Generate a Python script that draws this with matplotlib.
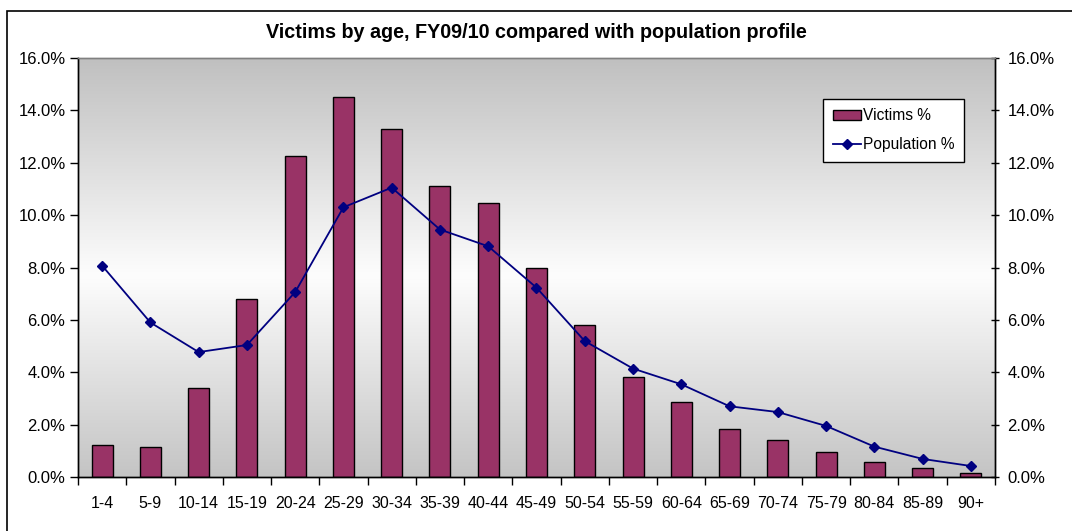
import numpy as np
import matplotlib
matplotlib.use("Agg")
import matplotlib.pyplot as plt
from matplotlib.patches import Rectangle
from matplotlib.ticker import FuncFormatter, FixedLocator

plt.rcParams['font.family'] = ['Liberation Sans', 'DejaVu Sans']

title = "Victims by age, FY09/10 compared with population profile"
categories = ["1-4", "5-9", "10-14", "15-19", "20-24", "25-29", "30-34", "35-39",
              "40-44", "45-49", "50-54", "55-59", "60-64", "65-69", "70-74",
              "75-79", "80-84", "85-89", "90+"]
victims_pct = [1.21, 1.16, 3.40, 6.80, 12.26, 14.50, 13.28, 11.10, 10.45, 7.97,
               5.80, 3.82, 2.87, 1.84, 1.43, 0.94, 0.58, 0.36, 0.15]
population_pct = [8.07, 5.90, 4.77, 5.04, 7.06, 10.30, 11.05, 9.45, 8.81, 7.23,
                  5.19, 4.14, 3.54, 2.70, 2.48, 1.95, 1.16, 0.69, 0.42]
y_ticks = [0, 2, 4, 6, 8, 10, 12, 14, 16]

W, H = 1072, 531
fig = plt.figure(figsize=(W / 100, H / 100), dpi=100)
fig.patch.set_facecolor('white')

L, R, T, B = 78, 995, 58, 477
ax = fig.add_axes([L / W, 1 - B / H, (R - L) / W, (B - T) / H])
ax2 = ax.twinx()

# gradient background
n = 256
t = np.linspace(0, 1, n)
g = np.empty(n)
top_c, mid_c, bot_c = 192, 253, 196
for i, v in enumerate(t):
    if v < 0.52:
        g[i] = top_c + (mid_c - top_c) * (v / 0.52)
    else:
        g[i] = mid_c + (bot_c - mid_c) * ((v - 0.52) / 0.48)
img = np.repeat((g / 255.0)[:, None], 3, axis=1)[:, None, :]
ax.imshow(img, extent=[0, 1, 0, 1], transform=ax.transAxes, aspect='auto',
          zorder=0, origin='upper')

x = np.arange(len(categories))
bars = ax.bar(x, victims_pct, width=0.435, color='#993366', edgecolor='black',
              linewidth=1.0, zorder=2, label='Victims %')
line, = ax2.plot(x, population_pct, color='#000080', linewidth=1.3, marker='D',
                 markersize=5.5, markerfacecolor='#000080', markeredgecolor='#000080',
                 zorder=3, label='Population %')

for a in (ax, ax2):
    a.set_ylim(0, 16)
    a.set_xlim(-0.5, len(categories) - 0.5)
    a.set_yticks(y_ticks)
    a.yaxis.set_major_formatter(FuncFormatter(lambda v, p: f"{v:.1f}%"))

ax.patch.set_visible(False)
ax.set_zorder(1)
ax2.set_zorder(2)
ax2.patch.set_visible(False)

ax.set_xticks(x)
ax.set_xticklabels(categories, fontsize=11.5)
ax.xaxis.set_minor_locator(FixedLocator(np.arange(-0.5, len(categories), 1.0)))
ax.tick_params(axis='x', which='major', length=0, pad=14)
ax.tick_params(axis='x', which='minor', length=6, width=1, direction='out', color='black')
ax.tick_params(axis='y', which='major', length=6, width=1, direction='out', labelsize=12, pad=3)
ax2.tick_params(axis='y', which='major', length=6, width=1, direction='inout', labelsize=12, pad=6)

for a in (ax, ax2):
    a.spines['top'].set_color('#808080')
    a.spines['top'].set_linewidth(1.0)
    for s in ('left', 'right', 'bottom'):
        a.spines[s].set_color('black')
        a.spines[s].set_linewidth(1.0)

fig.text((L + R) / 2 / W, 1 - 32 / H, title, ha='center', va='center',
         fontsize=14.2, fontweight='bold')

leg = ax2.legend([bars, line], ['Victims %', 'Population %'], loc='upper right',
                 bbox_to_anchor=(0.966, 0.902), fontsize=11.2, frameon=True,
                 fancybox=False, framealpha=1, edgecolor='black',
                 borderpad=0.6, handlelength=1.8, handletextpad=0.15,
                 labelspacing=0.9, borderaxespad=0)
leg.get_frame().set_linewidth(1.0)

# outer chart border
fig.add_artist(Rectangle((7 / W, -0.1), 1.5, (1 - 11 / H) + 0.1,
                         transform=fig.transFigure, fill=False,
                         edgecolor='black', linewidth=1.2))

fig.savefig('out.png', dpi=100)
